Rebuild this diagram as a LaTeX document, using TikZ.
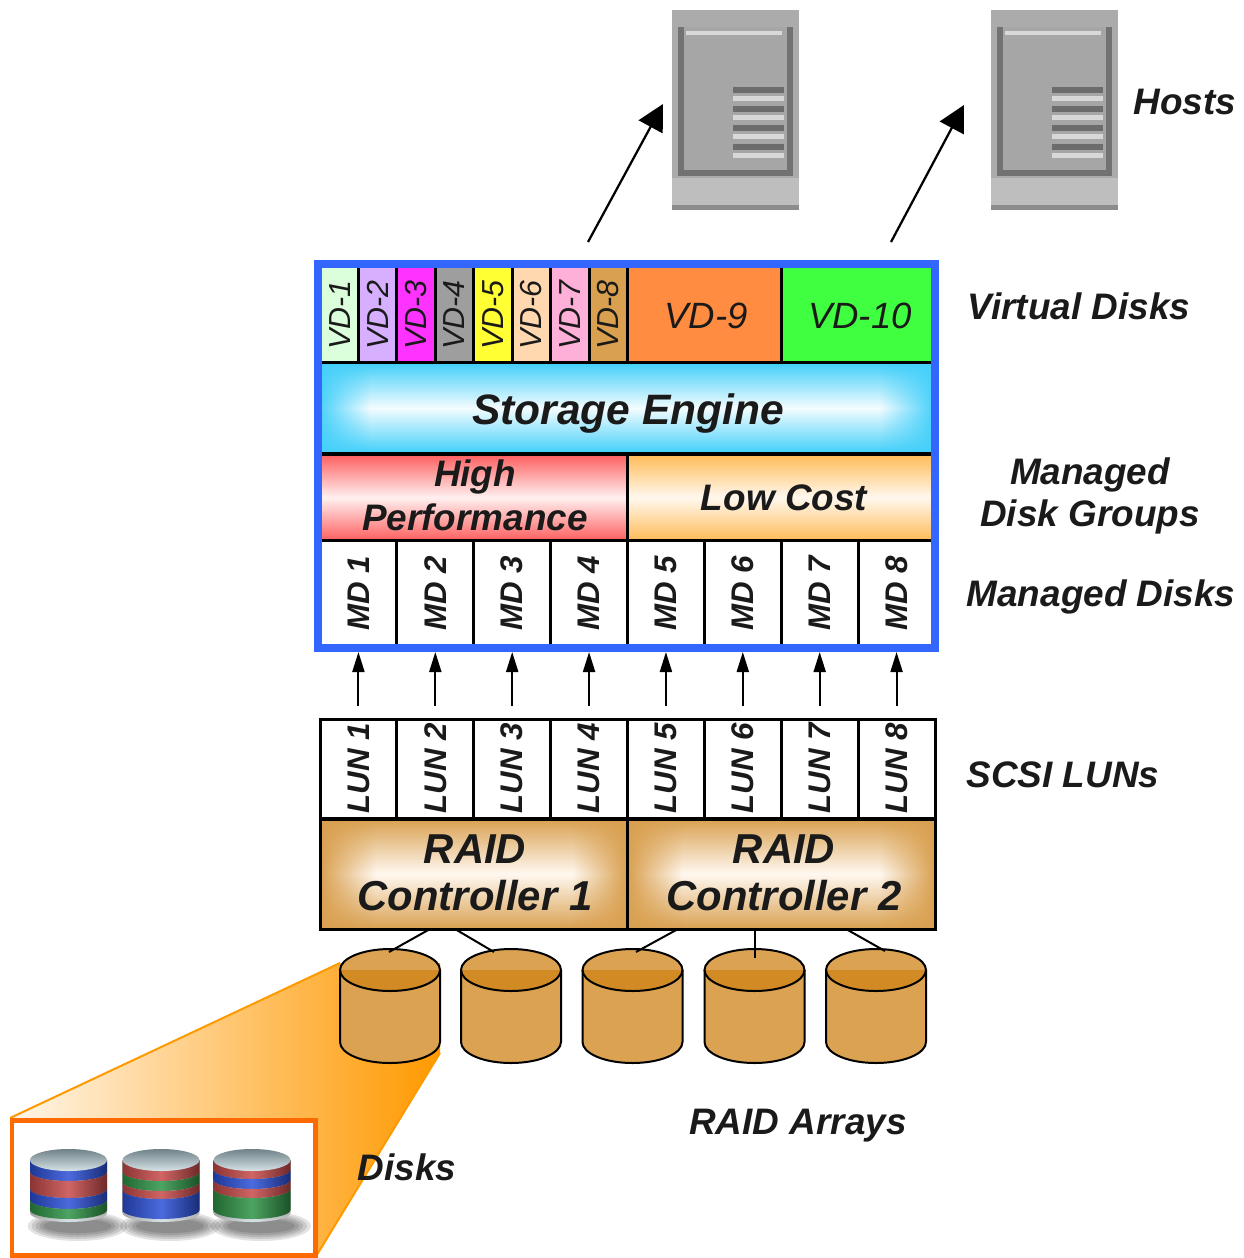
\documentclass[tikz,border=0pt]{standalone}
\usepackage{fontspec}
\setmainfont{Liberation Sans}
\usetikzlibrary{arrows.meta,fit,fadings}

% palette
\definecolor{ink}{HTML}{1A1A1A}
\definecolor{frameblue}{HTML}{3366FF}
\definecolor{vdA}{HTML}{DBFFDB}
\definecolor{vdB}{HTML}{D6B0FF}
\definecolor{vdC}{HTML}{FF33FF}
\definecolor{vdD}{HTML}{9E9E9E}
\definecolor{vdE}{HTML}{FFFF33}
\definecolor{vdF}{HTML}{FFD8B0}
\definecolor{vdG}{HTML}{FFB0D8}
\definecolor{vdH}{HTML}{D9A050}
\definecolor{vdI}{HTML}{FF8C40}
\definecolor{vdJ}{HTML}{40FF40}
\definecolor{engcyan}{HTML}{45D0FA}
\definecolor{engglow}{HTML}{F4FCFF}
\definecolor{hpred}{HTML}{FF6464}
\definecolor{hpglow}{HTML}{FFF0F0}
\definecolor{lcorange}{HTML}{FFBD5C}
\definecolor{lcglow}{HTML}{FFF8EE}
\definecolor{ctltan}{HTML}{D9A050}
\definecolor{ctlglow}{HTML}{FFF8F0}
\definecolor{drumtan}{HTML}{DBA252}
\definecolor{drumdark}{HTML}{D28B24}
\definecolor{funnelorange}{HTML}{FF9900}
\definecolor{funnellight}{HTML}{FFF6EA}
\definecolor{zoomorange}{HTML}{FF6A00}
\definecolor{diskblue}{HTML}{2C50D8}
\definecolor{diskred}{HTML}{C84A4A}
\definecolor{diskgreen}{HTML}{2E9446}
\definecolor{diskcapA}{HTML}{6F8288}
\definecolor{diskcapB}{HTML}{D6E2E6}
\definecolor{hostbody}{HTML}{ABABAB}
\definecolor{hostlow}{HTML}{BEBEBE}
\definecolor{hostedge}{HTML}{8C8C8C}
\definecolor{hostpanel}{HTML}{A6A6A6}
\definecolor{hostbar}{HTML}{727272}
\definecolor{hostshine}{HTML}{D8D8D8}
\definecolor{hoststripe}{HTML}{6C6C6C}

% one band of colour wrapped round a small disk drum
\newcommand\diskband[4]{%
  \shade[left color=#4!70!black, right color=#4!55!black, middle color=#4!85!white]
    ({#1-38.5},-#2) -- ({#1-38.5},-#3)
    arc[start angle=180,end angle=360,x radius=38.5,y radius=9]
    -- ({#1+38.5},-#2)
    arc[start angle=0,end angle=-180,x radius=38.5,y radius=9] -- cycle;}

\tikzset{
  lbl/.style={font=\fontsize{21}{24}\selectfont\bfseries\itshape, text=ink, inner sep=0pt},
  celltext/.style={font=\fontsize{17.8}{20}\selectfont\bfseries\itshape, text=ink, inner sep=0pt, rotate=90},
  vdtext/.style={font=\fontsize{17.3}{19}\selectfont\itshape, text=ink, inner sep=0pt, rotate=90},
  vdwide/.style={font=\fontsize{20.8}{24}\selectfont\itshape, text=ink, inner sep=0pt},
  grouptext/.style={font=\fontsize{21}{25}\selectfont\bfseries\itshape, text=ink, inner sep=0pt, align=center},
  ctltext/.style={font=\fontsize{23.8}{26.7}\selectfont\bfseries\itshape, text=ink, inner sep=0pt, align=center},
  cellbox/.style={inner sep=0pt, draw=black, line width=0.06cm},
  upar/.style={line width=0.04cm, -{Triangle[length=0.4cm,width=0.24cm]}},
  hostar/.style={line width=0.045cm, -{Triangle[length=0.52cm,width=0.54cm]}},
  wire/.style={line width=0.04cm},
  hostpc/.pic={
    \fill[hostbody] (0,0) rectangle (127,-200);
    \fill[hostlow] (0,-168) rectangle (127,-195);
    \fill[hostedge] (0,-195) rectangle (127,-200);
    \fill[hostpanel] (6,-17) rectangle (121,-166);
    \fill[hostbar] (6,-17) rectangle (12,-166);
    \fill[hostbar] (115,-17) rectangle (121,-166);
    \fill[hostbar] (6,-160) rectangle (121,-166);
    \fill[hostshine] (14,-21) rectangle (110,-25);
    \foreach \y in {77,96,115,134}{
      \fill[hoststripe] (61,-\y) rectangle (112,-\y-6);
      \fill[hostshine] (61,-\y-9) rectangle (112,-\y-14);
    }
  }
}

\begin{document}
\begin{tikzpicture}[x=0.02cm,y=0.02cm]
\useasboundingbox (0,0) rectangle (1244,-1258);

% ---------- hosts ----------
\pic at (672,-10) {hostpc};
\pic at (991,-10) {hostpc};
\coordinate (h1from) at (588,-242);
\coordinate (h1to) at (663,-104);
\coordinate (h2from) at (891,-242);
\coordinate (h2to) at (964,-105);
\draw[hostar] (h1from) -- (h1to);
\draw[hostar] (h2from) -- (h2to);

% ---------- virtual disks ----------
\foreach \i/\col in {1/vdA,2/vdB,3/vdC,4/vdD,5/vdE,6/vdF,7/vdG,8/vdH}{
  \pgfmathsetmacro\xa{\i==1 ? 316 : 320+38.4375*(\i-1)}
  \pgfmathsetmacro\xb{320+38.4375*\i}
  \pgfmathsetmacro\xc{\i==1 ? 340 : 320+38.4375*(\i-0.5)}
  \node[cellbox, fill=\col, fit={(\xa,-264) (\xb,-362)}] (vd\i) {};
  \node[vdtext] (vd\i-t) at (\xc,-315) {VD-\i};
}
\node[cellbox, fill=vdI, fit={(627.5,-264) (781,-362)}] (vd9) {};
\node[cellbox, fill=vdJ, fit={(781,-264) (937,-362)}] (vd10) {};
\node[vdwide, anchor=base] (vd9-t) at (706,-328) {VD-9};
\node[vdwide, anchor=base] (vd10-t) at (860,-328) {VD-10};

% ---------- storage engine ----------
\shade[top color=engcyan, bottom color=engcyan, middle color=engglow] (318,-364) rectangle (935,-452);
\fill[engcyan, path fading=east] (318,-364) rectangle (370,-452);
\fill[engcyan, path fading=west] (880,-364) rectangle (935,-452);
\draw[line width=0.08cm] (318,-454) -- (935,-454);
\node[lbl, font=\fontsize{24.2}{28}\selectfont\bfseries\itshape, anchor=base] (engine) at (628,-424) {Storage Engine};

% ---------- managed disk groups ----------
\shade[top color=hpred, bottom color=hpred, middle color=hpglow] (318,-456) rectangle (627.5,-539);
\shade[top color=lcorange, bottom color=lcorange, middle color=lcglow] (627.5,-456) rectangle (935,-539);
\draw[line width=0.06cm] (627.5,-455) -- (627.5,-540);
\node[grouptext] (hp) at (475,-495) {High\\Performance};
\node[grouptext, anchor=base] (lc) at (784,-510) {Low Cost};

% ---------- managed disks ----------
\foreach \i in {1,...,8}{
  \pgfmathsetmacro\xa{\i==1 ? 316 : 320+76.875*(\i-1)}
  \pgfmathsetmacro\xb{\i==8 ? 937 : 320+76.875*\i}
  \pgfmathsetmacro\xc{320+76.875*(\i-0.5)}
  \node[cellbox, fill=white, fit={(\xa,-540) (\xb,-650)}] (md\i) {};
  \node[celltext] (md\i-t) at (\xc,-593) {MD \i};
}

% ---------- outer frame ----------
\node[inner sep=0pt, draw=frameblue, line width=0.16cm, fit={(318,-264) (935,-648)}] (frame) {};

% ---------- SCSI LUNs ----------
\foreach \i in {1,...,8}{
  \pgfmathsetmacro\xa{320+76.875*(\i-1)}
  \pgfmathsetmacro\xb{320+76.875*\i}
  \pgfmathsetmacro\xc{320+76.875*(\i-0.5)}
  \node[cellbox, fill=white, fit={(\xa,-719) (\xb,-818)}] (lun\i) {};
  \node[celltext] (lun\i-t) at (\xc,-768) {LUN \i};
  \draw[upar] ([yshift=0.24cm]lun\i.north) -- (lun\i.north |- frame.south);
}

% ---------- RAID controllers ----------
\foreach \k/\xa/\xb/\xc in {1/320/627.5/475, 2/627.5/935/784}{
  \shade[top color=ctltan, bottom color=ctltan, middle color=ctlglow] (\xa,-819) rectangle (\xb,-929);
  \fill[ctltan, path fading=east] (\xa,-819) rectangle (\xa+55,-929);
  \fill[ctltan, path fading=west] (\xb-55,-819) rectangle (\xb,-929);
  \node[cellbox, fit={(\xa,-819) (\xb,-929)}] (ctl\k) {};
  \node[ctltext] (ctl\k-t) at (\xc,-873) {RAID\\Controller \k};
}

% ---------- zoom funnel ----------
\shade[left color=funnellight, right color=funnelorange]
  (10,-1118) -- (340,-963) -- (440,-963) -- (440,-1053) -- (315,-1258) -- (10,-1258) -- cycle;
\draw[funnelorange, line width=0.04cm] (10,-1118) -- (340,-963);
\draw[funnelorange, line width=0.04cm] (440,-1053) -- (315,-1258);

% ---------- RAID array drums ----------
\foreach \cx [count=\k] in {390,511,632.5,754.5,876}{
  \fill[drumtan] ({\cx-50},-970) -- ({\cx-50},-1042)
    arc[start angle=180,end angle=360,x radius=50,y radius=21]
    -- ({\cx+50},-970) arc[start angle=0,end angle=180,x radius=50,y radius=21] -- cycle;
  \fill[drumdark] ({\cx-50},-970) arc[start angle=180,end angle=360,x radius=50,y radius=21] -- cycle;
  \draw[wire] ({\cx-50},-970) -- ({\cx-50},-1042)
    arc[start angle=180,end angle=360,x radius=50,y radius=21] -- ({\cx+50},-970);
  \draw[wire] (\cx,-970) ellipse[x radius=50, y radius=21];
}
\coordinate (cyl1) at (389,-952);
\coordinate (cyl2) at (494,-952);
\coordinate (cyl3) at (636,-952);
\coordinate (cyl4) at (754.5,-958);
\coordinate (cyl5) at (885,-951);
\coordinate (c1a) at (430,-929);
\coordinate (c1b) at (455,-929);
\coordinate (c2a) at (678,-929);
\coordinate (c2b) at (754.5,-929);
\coordinate (c2c) at (846,-929);
\draw[wire] (c1a) -- (cyl1);
\draw[wire] (c1b) -- (cyl2);
\draw[wire] (c2a) -- (cyl3);
\draw[wire] (c2b) -- (cyl4);
\draw[wire] (c2c) -- (cyl5);

% ---------- individual disks ----------
\node[inner sep=0pt, fill=white, draw=zoomorange, line width=0.1cm, fit={(12,-1120) (315,-1255)}] (zoombox) {};
\foreach \cx [count=\k] in {68.5,161,252}{
  \foreach \r/\q in {50/15,46/13,42/11,38/9,34/7}{
    \fill[black, opacity=0.11] ({\cx+9},-1226) ellipse[x radius=\r, y radius=\q];
  }
  \shade[left color=gray!70, right color=gray!60, middle color=diskcapB]
    ({\cx-38.5},-1160) -- ({\cx-38.5},-1213)
    arc[start angle=180,end angle=360,x radius=38.5,y radius=9] -- ({\cx+38.5},-1160) -- cycle;
}
% drum 1 bands
\diskband{68.5}{1160}{1172}{diskblue}
\diskband{68.5}{1172}{1189}{diskred}
\diskband{68.5}{1189}{1200}{diskblue}
\diskband{68.5}{1200}{1210}{diskgreen}
% drum 2 bands
\diskband{161}{1160}{1172}{diskred}
\diskband{161}{1172}{1182}{diskgreen}
\diskband{161}{1182}{1190}{diskred}
\diskband{161}{1190}{1210}{diskblue}
% drum 3 bands
\diskband{252}{1160}{1170}{diskred}
\diskband{252}{1170}{1180}{diskblue}
\diskband{252}{1180}{1189}{diskred}
\diskband{252}{1189}{1210}{diskgreen}
\foreach \cx in {68.5,161,252}{
  \shade[top color=diskcapA, bottom color=diskcapB] (\cx,-1160) ellipse[x radius=38.5, y radius=11];
}

% ---------- side captions ----------
\node[lbl, anchor=base] (hosts) at (1185,-114) {Hosts};
\node[lbl, anchor=base] (vdisks) at (1079,-319) {Virtual Disks};
\node[lbl, align=center] (mdg) at (1090,-496) {Managed\\Disk Groups};
\node[lbl, anchor=base] (mdisks) at (1101,-606) {Managed Disks};
\node[lbl, anchor=base] (luns) at (1063,-787) {SCSI LUNs};
\node[lbl, anchor=base] (arrays) at (798,-1134) {RAID Arrays};
\node[lbl, anchor=base] (disks) at (407,-1180) {Disks};
\end{tikzpicture}
\end{document}
